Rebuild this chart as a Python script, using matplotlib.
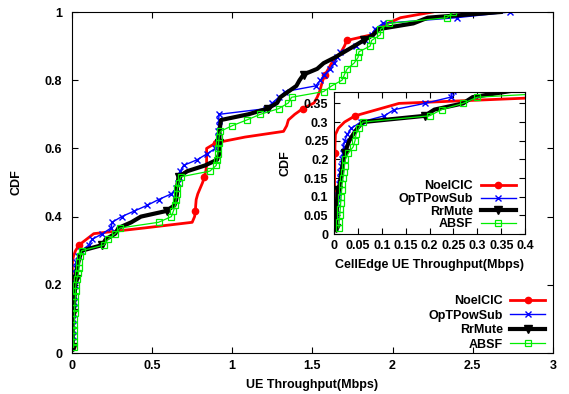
import numpy as np
import matplotlib
matplotlib.use("Agg")
import matplotlib.pyplot as plt

plt.rcParams["font.family"] = ["Liberation Sans", "DejaVu Sans"]
plt.rcParams["font.weight"] = "bold"
plt.rcParams["font.size"] = 9

# sorted UE throughput samples (Mbps), 60 UEs per scheme
noelcic = [0.0, 0.0, 0.0005, 0.0005, 0.001, 0.001, 0.001, 0.0012, 0.0012, 0.0015,
           0.0015, 0.0015, 0.002, 0.002, 0.0025, 0.003,
           0.009, 0.022, 0.044, 0.09, 0.136, 0.45,
           0.75, 0.765, 0.77, 0.772, 0.775, 0.785, 0.80, 0.815, 0.825, 0.835,
           0.84, 0.84, 0.84, 0.84, 0.90, 1.08, 1.32, 1.34, 1.35, 1.39,
           1.44, 1.51, 1.53, 1.545, 1.555, 1.565, 1.58, 1.60, 1.62, 1.65,
           1.68, 1.70, 1.715, 1.87, 1.91, 1.97, 2.05, 2.25]
optpowsub = [0.002, 0.003, 0.004, 0.005, 0.007, 0.008, 0.009, 0.010, 0.012, 0.013,
             0.015, 0.017, 0.018, 0.020, 0.022,
             0.028, 0.036, 0.056, 0.105, 0.126, 0.19, 0.244,
             0.25, 0.31, 0.39, 0.47, 0.54, 0.62, 0.65, 0.66, 0.668, 0.675,
             0.696, 0.78, 0.84, 0.894, 0.91, 0.912, 0.913, 0.915, 0.915, 0.918,
             1.21, 1.25, 1.29, 1.33, 1.52, 1.55, 1.575, 1.61, 1.635, 1.655,
             1.675, 1.77, 1.83, 1.87, 1.89, 1.94, 2.4, 2.73]
rrmute = [0.004, 0.005, 0.005, 0.006, 0.006, 0.007, 0.008, 0.012, 0.014, 0.016,
          0.018, 0.020,
          0.024, 0.027, 0.032, 0.040, 0.049, 0.060,
          0.19, 0.21, 0.27, 0.29, 0.37, 0.43, 0.59, 0.64, 0.65, 0.655,
          0.655, 0.66, 0.665, 0.72, 0.83, 0.905, 0.918, 0.92, 0.92, 0.92,
          0.92, 0.925, 0.93, 1.1, 1.22, 1.28, 1.3, 1.35, 1.40, 1.42,
          1.445, 1.53, 1.57, 1.64, 1.7, 1.76, 1.82, 1.88, 1.915, 2.13, 2.22, 2.675]
absf = [0.010, 0.011, 0.012, 0.013, 0.014, 0.015, 0.016, 0.017, 0.019, 0.021,
        0.022, 0.024,
        0.030, 0.040, 0.044, 0.046, 0.052, 0.060,
        0.20, 0.225, 0.27, 0.30, 0.54, 0.62, 0.633, 0.645, 0.65, 0.653,
        0.658, 0.668, 0.678, 0.86, 0.90, 0.905, 0.91, 0.912, 0.915, 0.918,
        0.925, 1.0, 1.09, 1.175, 1.29, 1.35, 1.37, 1.57, 1.62, 1.685,
        1.70, 1.717, 1.76, 1.785, 1.79, 1.86, 1.87, 1.925, 1.925, 1.98, 2.34, 2.38]

labels = ["NoelCIC", "OpTPowSub", "RrMute", "ABSF"]
series = [noelcic, optpowsub, rrmute, absf]
styles = [
    dict(color="#ff0000", lw=2.0, marker="o", ms=4.5, markevery=6),
    dict(color="#0000ff", lw=1.0, marker="x", ms=4, mew=1.0),
    dict(color="#000000", lw=3.0, marker="v", ms=5.5, markevery=6),
    dict(color="#00ee00", lw=0.9, marker="s", ms=4, mfc="none", mew=0.9),
]

fig = plt.figure(figsize=(5.69, 3.94), dpi=100)
ax = fig.add_axes([0.1265, 0.104, 0.845, 0.8655])
ins = fig.add_axes([0.587, 0.406, 0.336, 0.36])


def draw(a):
    for vals, lab, st in zip(series, labels, styles):
        x = np.sort(np.asarray(vals))
        y = np.arange(1, len(x) + 1) / len(x)
        a.plot(x, y, label=lab, **st)


draw(ax)
ax.set_xlim(0, 3)
ax.set_ylim(0, 1)
ax.set_xticks(np.arange(0, 3.01, 0.5))
ax.set_xticklabels(["0", "0.5", "1", "1.5", "2", "2.5", "3"])
ax.set_yticks(np.arange(0, 1.01, 0.2))
ax.set_yticklabels(["0", "0.2", "0.4", "0.6", "0.8", "1"])
ax.tick_params(direction="in", top=True, right=True, length=4, width=0.8)
ax.tick_params(axis="y", pad=7)
ax.tick_params(axis="x", pad=5)
ax.set_xlabel("UE Throughput(Mbps)", fontweight="bold", labelpad=5)
ax.set_ylabel("CDF", fontweight="bold", labelpad=16)
ax.legend(loc="lower right", frameon=False, markerfirst=False, handlelength=2.8,
          handletextpad=0.6, labelspacing=0.2, borderaxespad=0.0, borderpad=0.2,
          bbox_to_anchor=(0.99, 0.0))

draw(ins)
ins.set_facecolor("white")
ins.set_xlim(0, 0.4)
ins.set_ylim(0, 0.38)
ins.set_xticks(np.arange(0, 0.401, 0.05))
ins.set_xticklabels(["0", "0.05", "0.1", "0.15", "0.2", "0.25", "0.3", "0.35", "0.4"])
ins.set_yticks(np.arange(0, 0.351, 0.05))
ins.set_yticklabels(["0", "0.05", "0.1", "0.15", "0.2", "0.25", "0.3", "0.35"])
ins.tick_params(direction="in", top=True, right=True, length=4, width=0.8)
ins.tick_params(axis="y", pad=4)
ins.tick_params(axis="x", pad=4)
ins.set_xlabel("CellEdge UE Throughput(Mbps)", fontweight="bold", labelpad=5)
ins.set_ylabel("CDF", fontweight="bold", labelpad=9)
ins.legend(loc="lower right", frameon=False, markerfirst=False, handlelength=2.8,
           handletextpad=0.6, labelspacing=0.05, borderaxespad=0.05, borderpad=0.25,
           bbox_to_anchor=(0.97, 0.0))

fig.savefig("out.png", dpi=100)
